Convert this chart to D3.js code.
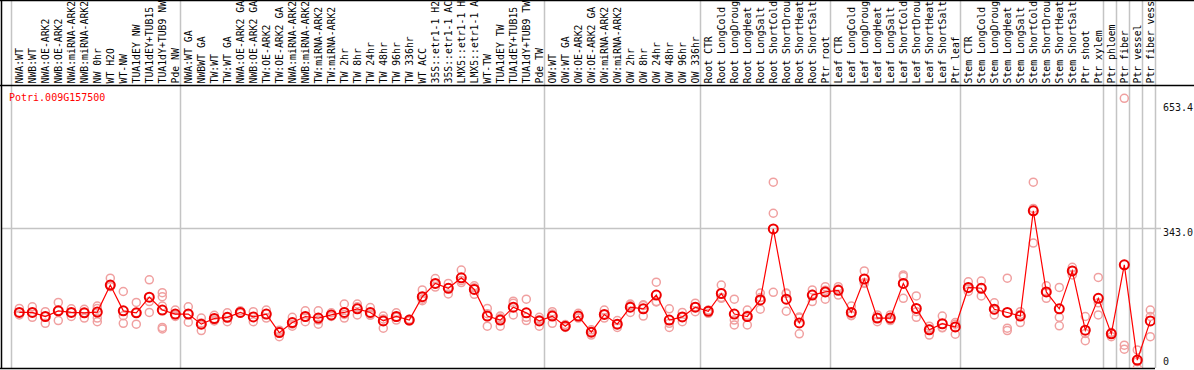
<!DOCTYPE html>
<html>
<head>
<meta charset="utf-8">
<script src="https://cdn.jsdelivr.net/npm/d3@7"></script>
<style>
  body { margin: 0; background: #fff; }
  svg { display: block; }
  text { font-family: "DejaVu Sans Mono", monospace; font-size: 10px; }
</style>
</head>
<body>
<div id="chart"></div>
<script>
// sample labels, in plot order
var samples = [
  "NWA:WT","NWB:WT","NWA:OE-ARK2","NWB:OE-ARK2","NWA:miRNA-ARK2","NWB:miRNA-ARK2","NW 0hr","WT H2O","WT-NW",
  "TUA1dEY NW","TUA1dEY+TUB15 NW","TUA1dY+TUB9 NW","Pde NW",
  "NWA:WT GA","NWBWT GA","TW:WT","TW:WT GA","NWA:OE-ARK2 GA","NWB:OE-ARK2 GA","TW:OE-ARK2","TW:OE-ARK2 GA",
  "NWA:miRNA-ARK2 GA","NWB:miRNA-ARK2 GA","TW:miRNA-ARK2","TW:miRNA-ARK2 GA","TW 2hr","TW 8hr","TW 24hr","TW 48hr",
  "TW 96hr","TW 336hr","WT ACC","35S::etr1-1 H2O","35S::etr1-1 ACC","LMX5::etr1-1 H2O","LMX5::etr1-1 ACC","WT-TW",
  "TUA1dEY TW","TUA1dEY+TUB15 TW","TUA1dY+TUB9 TW","Pde TW",
  "OW:WT","OW:WT GA","OW:OE-ARK2","OW:OE-ARK2 GA","OW:miRNA-ARK2","OW:miRNA-ARK2 GA","OW 2hr","OW 8hr","OW 24hr",
  "OW 48hr","OW 96hr","OW 336hr",
  "Root CTR","Root LongCold","Root LongDrought","Root LongHeat","Root LongSalt","Root ShortCold","Root ShortDrought",
  "Root ShortHeat","Root ShortSalt","Ptr root",
  "Leaf CTR","Leaf LongCold","Leaf LongDrought","Leaf LongHeat","Leaf LongSalt","Leaf ShortCold","Leaf ShortDrought",
  "Leaf ShortHeat","Leaf ShortSalt","Ptr leaf",
  "Stem CTR","Stem LongCold","Stem LongDrought","Stem LongHeat","Stem LongSalt","Stem ShortCold","Stem ShortDrought",
  "Stem ShortHeat","Stem ShortSalt","Ptr shoot","Ptr xylem",
  "Ptr phloem","Ptr fiber","Ptr vessel","Ptr fiber vessel"
]

// index where each experiment group starts (gray separators)
var groupStarts = [0, 13, 41, 53, 63, 73, 84, 85, 86, 87, 88]

var means = [
  134,134,124,138,134,133,135,202,138,133,172,140,130,
  130,105,119,122,134,123,130,84,109,124,120,128,134,143,134,113,124,115,173,206,194,220,191,125,115,147,133,113,125,
  100,125,85,129,105,147,143,177,115,123,147,137,
  181,130,124,165,341,167,108,177,185,189,
  134,217,120,120,206,144,91,106,98,196,
  194,142,134,125,386,185,143,237,90,169,
  81,252,16,113
]

var replicates = [
  [144,134,128],[148,134,122],[136,124,107],[159,138,114],[143,134,124],[142,133,120],[150,144,120,111],
  [219,202,198],[186,126,107],[159,133,105],[215,161,134],[183,173,150,97,93],[140,128,124],
  [148,130,110],[120,108,89],[127,113,115],[133,122,111],[138,132],[136,111],[140,120],[90,87,74],[122,100,105],
  [138,111,123],[138,115,105],[133,124],[155,129,120],[155,148,128],[146,127,130],[125,118,95],[133,122,115],
  [117,115,113],[190,163,167],[218,197,205],[206,195,180],[239,213,208],[200,195,179],[144,131,100],[125,120,100],
  [162,157,128],[167,122,114],[122,116,100],[136,130,107],
  [104,100,97],[132,124,120],[91,86,78],[140,129,120],[114,105,97],[155,151,134],[153,151,125],[209,161,160],
  [143,107,97],[134,122,111],[157,148,136],[140,138,132],
  [202,171,169],[167,115,103],[140,127,103],[182,171,142],[457,380,184],[182,181,137],[120,123,81],[190,179,161],
  [198,189,167],[198,192,177],
  [150,127,126],[237,208,206],[128,120,111],[128,117,114],[227,223,169],[175,136,122],[100,93,78],[125,97,96],
  [109,105,80],[210,193,186],
  [212,195,175],[158,140,128],[219,95,89],[136,129,109],[457,392,306],[200,185,169],[196,122,101],[246,238,227],
  [124,82,64],[221,158,128],
  [84,84,74],[665,53,43],[41,12,-4],[140,124,74]
]

var yTicks = [0, 343.0, 653.4]
var geneId = "Potri.009G157500"

var width = 1194, height = 370
var plotTop = 85, plotBottom = 368, plotLeft = 1
var step = 13, firstEdge = 11
var maxChars = 14   // the header only has room for this many characters

var svg = d3.select("#chart").append("svg")
  .attr("width", width)
  .attr("height", height)

var x = d3.scaleBand()
  .domain(d3.range(samples.length + 1))
  .range([firstEdge, firstEdge + step * (samples.length + 1)])
  .paddingInner(0).paddingOuter(0)

var px = (i) => x(i) + 8.3
var plotRight = x(samples.length)

var y = d3.scaleLinear()
  .domain([0, 653.4])
  .range([366.5, 103])

// gray separators between experiment groups
svg.append("g")
  .selectAll("line")
  .data(groupStarts)
  .enter()
  .append("line")
  .attr("x1", (d) => x(d) + 0.5)
  .attr("x2", (d) => x(d) + 0.5)
  .attr("y1", 0)
  .attr("y2", plotBottom)
  .style("stroke", "#c4c4c4")
  .style("stroke-width", 1.5)

// horizontal grid at the middle tick
svg.append("line")
  .attr("x1", plotLeft)
  .attr("x2", 1161)
  .attr("y1", Math.round(y(343.0)) + 0.5)
  .attr("y2", Math.round(y(343.0)) + 0.5)
  .style("stroke", "#c4c4c4")
  .style("stroke-width", 1.5)

// rotated sample labels
svg.append("g")
  .selectAll("text")
  .data(samples)
  .enter()
  .append("text")
  .attr("transform", (d, i) => `translate(${px(i)},83.5) rotate(-90)`)
  .attr("dy", "0.35em")
  .style("font-size", "9.8px")
  .style("fill", "#000")
  .text((d) => d.slice(0, maxChars))

// frame lines
var frame = svg.append("g").style("stroke", "#000").style("stroke-width", 1.5)
frame.append("line").attr("x1", 0).attr("x2", width).attr("y1", 0.5).attr("y2", 0.5)
frame.append("line").attr("x1", 0).attr("x2", width).attr("y1", plotTop + 0.5).attr("y2", plotTop + 0.5)
frame.append("line").attr("x1", 0).attr("x2", plotRight).attr("y1", plotBottom + 0.5).attr("y2", plotBottom + 0.5)
frame.append("line").attr("x1", plotLeft + 0.5).attr("x2", plotLeft + 0.5).attr("y1", 0).attr("y2", plotBottom)

svg.append("text")
  .attr("x", 9)
  .attr("y", 100.5)
  .style("fill", "#ff0000")
  .text(geneId)

// right axis labels
var axis = svg.append("g")
  .attr("transform", "translate(1163,0)")
  .call(d3.axisRight(y).tickValues(yTicks).tickSize(0).tickPadding(0)
    .tickFormat((d) => d === 0 ? "0" : d3.format(".1f")(d)))
axis.select(".domain").remove()
axis.selectAll("text")
  .attr("dy", (d) => d === 0 ? "-0.25em" : "0.75em")
  .style("font-family", "DejaVu Sans Mono, monospace")
  .style("font-size", "10px")
  .style("fill", "#111")

// plotted data, clipped to the plot area
svg.append("clipPath").attr("id", "plotclip")
  .append("rect")
  .attr("x", plotLeft).attr("y", plotTop + 1)
  .attr("width", plotRight - plotLeft).attr("height", plotBottom - plotTop - 1)

var plot = svg.append("g").attr("clip-path", "url(#plotclip)")

var reps = []
replicates.forEach((vals, i) => vals.forEach((v) => reps.push({ i: i, v: v })))

plot.append("g")
  .selectAll("circle")
  .data(reps)
  .enter()
  .append("circle")
  .attr("cx", (d) => px(d.i))
  .attr("cy", (d) => y(d.v))
  .attr("r", 4)
  .style("fill", "none")
  .style("stroke", "#f0a0a0")
  .style("stroke-width", 1.5)

plot.append("path")
  .datum(means)
  .attr("d", d3.line().x((d, i) => px(i)).y((d) => y(d)))
  .style("fill", "none")
  .style("stroke", "#ff0000")
  .style("stroke-width", 1.2)

plot.append("g")
  .selectAll("circle")
  .data(means)
  .enter()
  .append("circle")
  .attr("cx", (d, i) => px(i))
  .attr("cy", (d) => y(d))
  .attr("r", 4.5)
  .style("fill", "none")
  .style("stroke", "#ee0000")
  .style("stroke-width", 2)
</script>
</body>
</html>
